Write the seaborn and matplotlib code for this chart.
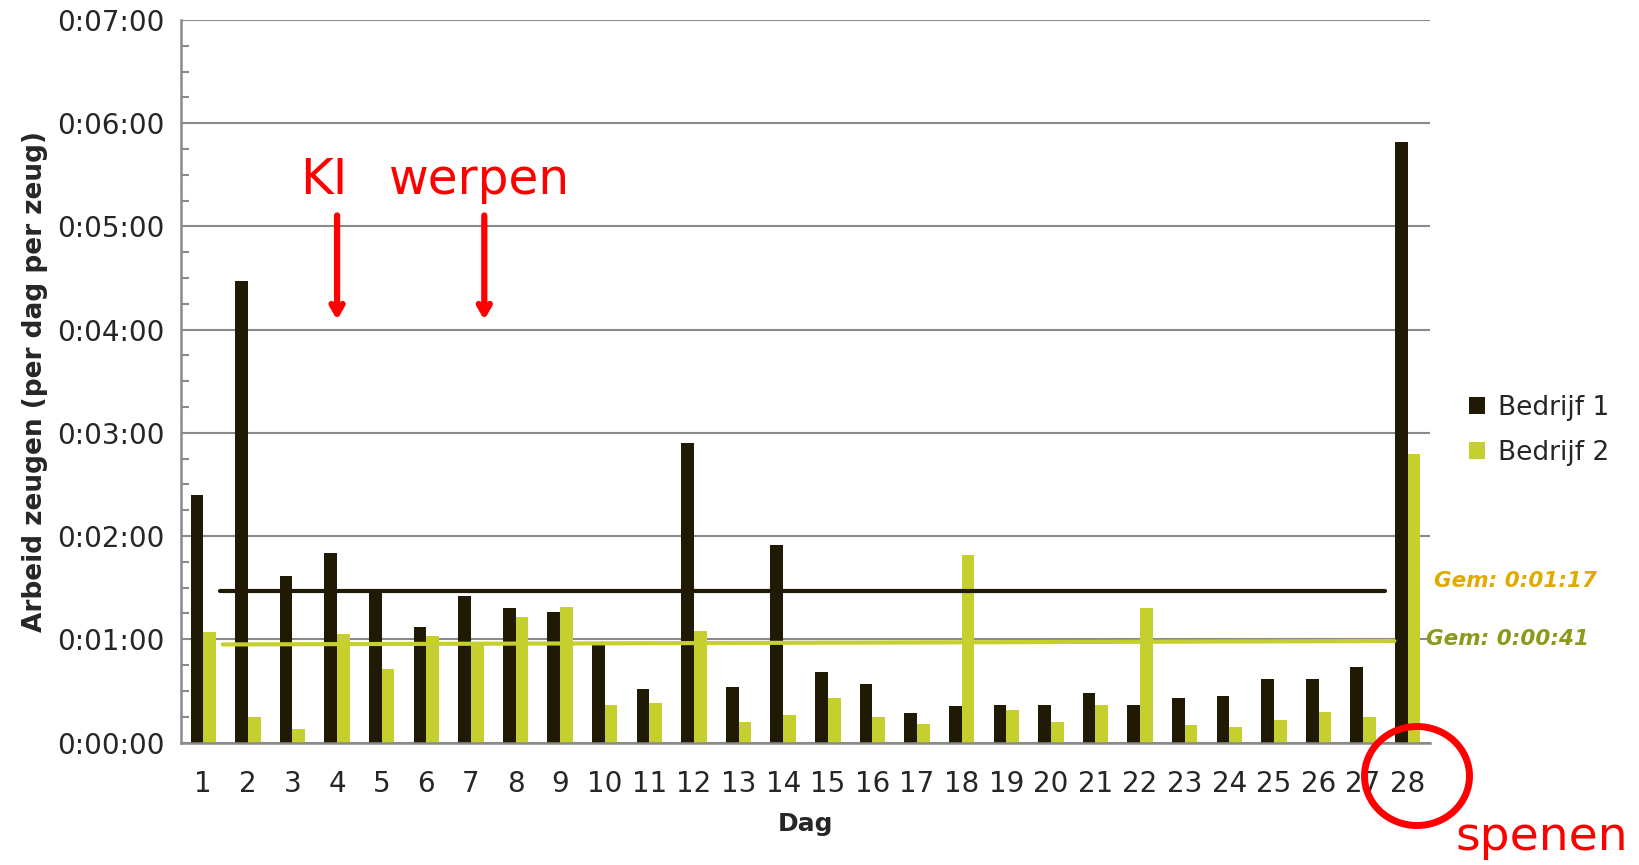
import numpy as np
import pandas as pd
import matplotlib
matplotlib.use("Agg")
import matplotlib.pyplot as plt
import seaborn as sns
from matplotlib.ticker import FuncFormatter, MultipleLocator
from matplotlib.patches import Ellipse

# seconds of labour per sow per day
days = [str(d) for d in range(1, 29)]
bedrijf1 = [144, 268, 97, 110, 88, 67, 85, 78, 76, 57, 31, 174, 32, 115,
            41, 34, 17, 21, 22, 22, 29, 22, 26, 27, 37, 37, 44, 349]
bedrijf2 = [64, 15, 8, 63, 43, 62, 57, 73, 79, 22, 23, 65, 12, 16,
            26, 15, 11, 109, 19, 12, 22, 78, 10, 9, 13, 18, 15, 168]
series_names = ["Bedrijf 1", "Bedrijf 2"]
colors = ["#201a04", "#c5cf2e"]

# hand drawn average lines (seconds)
avg1_level = [88, 88]
avg2_level = [57, 59]
avg_labels = ["Gem: 0:01:17", "Gem: 0:00:41"]

df = pd.DataFrame({
    "Dag": days * 2,
    "sec": bedrijf1 + bedrijf2,
    "serie": [series_names[0]] * 28 + [series_names[1]] * 28,
})

sns.set_style("white")
plt.rcParams['font.family'] = ['DejaVu Sans']

fig = plt.figure(figsize=(16.39, 8.65), dpi=100)
ax = fig.add_axes([0.1104, 0.1416, 0.7621, 0.8353])

sns.barplot(data=df, x="Dag", y="sec", hue="serie", palette=colors,
            width=0.57, gap=0, linewidth=0, saturation=1, ax=ax)

ax.set_xlim(-0.5, 27.5)
ax.set_ylim(0, 420)
ax.yaxis.set_major_locator(MultipleLocator(60))
ax.yaxis.set_minor_locator(MultipleLocator(15))
ax.yaxis.set_major_formatter(FuncFormatter(
    lambda v, p: "0:%02d:%02d" % (int(v) // 60, int(v) % 60)))
ax.grid(axis="y", which="major", color="#8a8a8a", lw=1.5, zorder=0)
ax.set_axisbelow(True)

for s in ["top", "right"]:
    ax.spines[s].set_visible(False)
for s in ["left", "bottom"]:
    ax.spines[s].set_color("#8a8a8a")
    ax.spines[s].set_linewidth(1.8)

ax.tick_params(axis="y", which="major", direction="out", length=8,
               width=1.5, color="#8a8a8a", labelsize=20, pad=4)
ax.tick_params(axis="y", which="minor", direction="in", length=6,
               width=1.5, color="#8a8a8a", left=True)
# x ticks at category boundaries
ax.set_xticks(np.arange(-0.5, 28, 1), minor=True)
ax.tick_params(axis="x", which="minor", direction="out", length=9,
               width=1.5, color="#8a8a8a")
ax.tick_params(axis="x", which="major", length=0, labelsize=20, pad=20)

ax.set_xlabel("Dag", fontsize=18, fontweight="bold", labelpad=10)
ax.set_ylabel("Arbeid zeugen (per dag per zeug)", fontsize=19,
              fontweight="bold", labelpad=6)

# average lines
ax.plot([0.37, 26.5], avg1_level, color="#201a04", lw=3, zorder=4)
ax.plot([0.44, 26.7], avg2_level, color="#c5cf2e", lw=3, zorder=4)
ax.text(1.003, 94, avg_labels[0], transform=ax.get_yaxis_transform(),
        color="#e0ab00", fontsize=15.5, fontweight="bold", style="italic",
        va="center", clip_on=False)
ax.text(0.997, 60, avg_labels[1], transform=ax.get_yaxis_transform(),
        color="#8c9a18", fontsize=15.5, fontweight="bold", style="italic",
        va="center", clip_on=False)

# annotations
ax.text(3.0 - 0.3, 327, "KI", color="red", fontsize=36, ha="center",
        va="center")
ax.text(6.2, 327, "werpen", color="red", fontsize=35, ha="center",
        va="center")
for xa in [3.0, 6.3]:
    ax.annotate("", xy=(xa, 244), xytext=(xa, 308),
                arrowprops=dict(arrowstyle="->,head_length=0.7,head_width=0.4",
                                color="red", lw=4.5))

ell = Ellipse((1417 / 1639, 1 - 776 / 865), 105 / 1639, 99 / 865,
              transform=fig.transFigure, fill=False, ec="red", lw=5,
              clip_on=False)
fig.add_artist(ell)
fig.text(1542 / 1639, 1 - 837 / 865, "spenen", color="red", fontsize=34,
         ha="center", va="center")

leg = ax.legend(loc="center left", bbox_to_anchor=(1.012, 0.432), frameon=False,
                fontsize=19, handlelength=0.6, handleheight=0.6,
                handletextpad=0.5, labelspacing=0.72)
leg.set_title(None)

fig.savefig("out.png", dpi=100)
